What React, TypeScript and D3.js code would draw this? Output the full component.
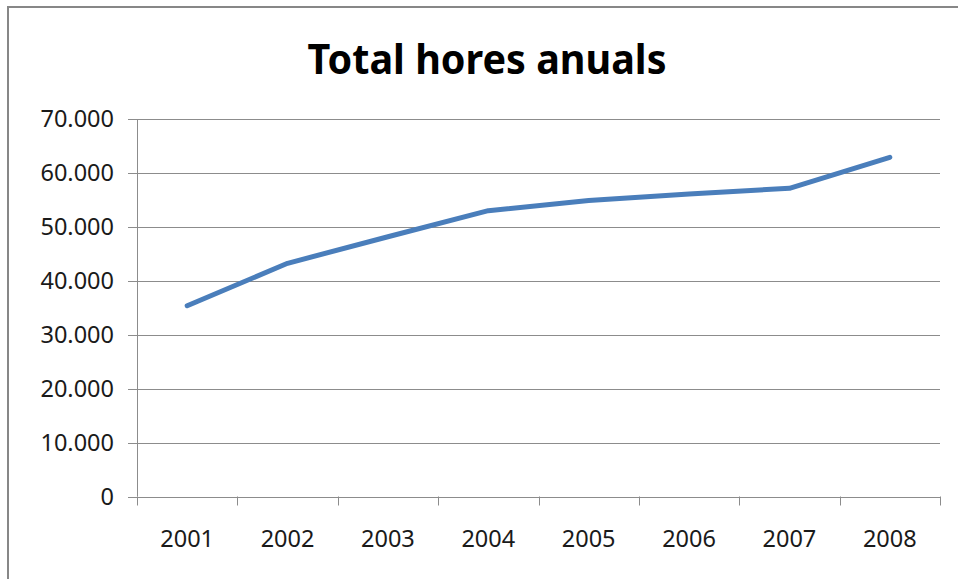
import * as d3 from "d3";

// Total hores anuals per any
const years = ["2001", "2002", "2003", "2004", "2005", "2006", "2007", "2008"];
const hours = [35380, 43240, 48170, 53000, 54900, 56100, 57150, 62900];
const yTicks = [0, 10000, 20000, 30000, 40000, 50000, 60000, 70000];

const title = "Total hores anuals";

const locale = d3.formatLocale({
    decimal: ",",
    thousands: ".",
    grouping: [3],
    currency: ["", " €"],
});
const fmt = locale.format(",");

export default function App() {
    const width = 958;
    const height = 579;
    const plot = { left: 137, right: 940, top: 119, bottom: 496.5 };
    const font = "'Noto Sans', 'Open Sans', sans-serif";
    const grey = "#8c8c8c";

    const x = d3.scaleBand<string>().domain(years).range([plot.left, plot.right]);
    const y = d3.scaleLinear().domain([0, 70000]).range([plot.bottom, plot.top]);

    const line = d3
        .line<number>()
        .x((_, i) => (x(years[i]) || 0) + x.bandwidth() / 2)
        .y((d) => y(d));

    // band edges for the category tick marks
    const edges = years.map((yr) => x(yr) || 0).concat([plot.right]);

    return (
        <svg
            width={width}
            height={height}
            style={{ position: "absolute", left: 0, top: 0, background: "#fff" }}
        >
            <rect x={0} y={0} width={width} height={height} fill="#fff" />
            <rect
                x={8}
                y={7}
                width={1200}
                height={1200}
                fill="none"
                stroke="#878787"
                strokeWidth={2}
            />
            <text
                x={487}
                y={74}
                fontFamily={font}
                fontWeight="bold"
                fontSize={42}
                textAnchor="middle"
                textLength={359}
                lengthAdjust="spacingAndGlyphs"
                fill="#000"
            >
                {title}
            </text>

            {/* gridlines and y ticks */}
            {yTicks.map((t) => (
                <g key={t}>
                    <line
                        x1={plot.left - 9}
                        x2={t === 0 ? plot.left : plot.right}
                        y1={Math.round(y(t)) + 0.5}
                        y2={Math.round(y(t)) + 0.5}
                        stroke={grey}
                        strokeWidth={1}
                    />
                    <text
                        x={114}
                        y={y(t)}
                        dy="0.36em"
                        fontFamily={font}
                        fontSize={23.5}
                        textAnchor="end"
                        fill="#1a1a1a"
                    >
                        {fmt(t)}
                    </text>
                </g>
            ))}

            {/* axes */}
            <line
                x1={plot.left + 0.5}
                x2={plot.left + 0.5}
                y1={plot.top}
                y2={plot.bottom}
                stroke={grey}
                strokeWidth={1}
            />
            <line
                x1={plot.left}
                x2={plot.right}
                y1={Math.round(plot.bottom) + 0.5}
                y2={Math.round(plot.bottom) + 0.5}
                stroke={grey}
                strokeWidth={1}
            />
            {edges.map((e, i) => (
                <line
                    key={i}
                    x1={Math.round(e) + 0.5}
                    x2={Math.round(e) + 0.5}
                    y1={plot.bottom}
                    y2={plot.bottom + 9}
                    stroke={grey}
                    strokeWidth={1}
                />
            ))}
            {years.map((yr) => (
                <text
                    key={yr}
                    x={(x(yr) || 0) + x.bandwidth() / 2}
                    y={547}
                    fontFamily={font}
                    fontSize={23.5}
                    textAnchor="middle"
                    fill="#1a1a1a"
                >
                    {yr}
                </text>
            ))}

            <path
                d={line(hours) || undefined}
                fill="none"
                stroke="#4a7ebb"
                strokeWidth={5}
                strokeLinejoin="round"
                strokeLinecap="round"
            />
        </svg>
    );
}
